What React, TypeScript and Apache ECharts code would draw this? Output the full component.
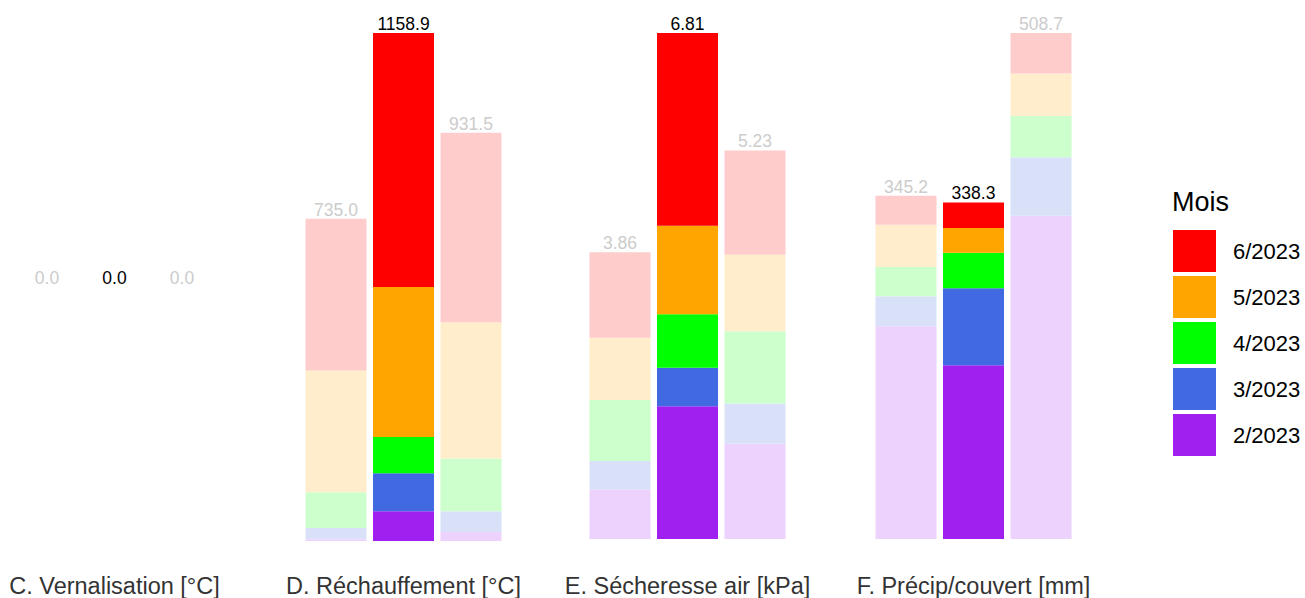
import React, { useEffect, useRef } from "react";
import * as echarts from "echarts";

// Legend / month order (top of stack first in legend)
const months = ["6/2023", "5/2023", "4/2023", "3/2023", "2/2023"];
// Stack order from bottom: 2/2023 .. 6/2023
const stackMonths = ["2/2023", "3/2023", "4/2023", "5/2023", "6/2023"];
const fullColors = ["#A020F0", "#4169E1", "#00FF00", "#FFA500", "#FF0000"];
const fadedColors = ["#ECD2FC", "#D9E1F9", "#CCFFCC", "#FFEDCC", "#FFCCCC"];

const facetTitles = [
  "C. Vernalisation [°C]",
  "D. Réchauffement [°C]",
  "E. Sécheresse air [kPa]",
  "F. Précip/couvert [mm]",
];
const barCategories = ["prev", "current", "next"];

// rows: 2/2023, 3/2023, 4/2023, 5/2023, 6/2023 ; columns: 3 bars
const vernalisationByMonth = [
  [0, 0, 0],
  [0, 0, 0],
  [0, 0, 0],
  [0, 0, 0],
  [0, 0, 0],
];
const rechauffementByMonth = [
  [3.9, 67.8, 20.5],
  [25.7, 86.5, 47.2],
  [81.6, 82.7, 120.5],
  [277.7, 342.3, 310.6],
  [346.1, 579.6, 432.7],
];
const secheresseByMonth = [
  [0.662, 1.785, 1.282],
  [0.388, 0.52, 0.543],
  [0.822, 0.721, 0.972],
  [0.835, 1.191, 1.027],
  [1.153, 2.593, 1.406],
];
const precipByMonth = [
  [213.8, 174.6, 325.0],
  [30.3, 77.4, 58.7],
  [29.3, 35.8, 41.6],
  [42.6, 24.9, 42.6],
  [29.2, 25.6, 40.8],
];

const vernalisationTotals = [0, 0, 0];
const rechauffementTotals = [735.0, 1158.9, 931.5];
const secheresseTotals = [3.86, 6.81, 5.23];
const precipTotals = [345.2, 338.3, 508.7];

const facetValues = [vernalisationByMonth, rechauffementByMonth, secheresseByMonth, precipByMonth];
const facetTotals = [vernalisationTotals, rechauffementTotals, secheresseTotals, precipTotals];
const facetDecimals = [1, 1, 2, 1];

const FONT = "'Liberation Sans', Arial, sans-serif";

export default function App() {
  const ref = useRef<HTMLDivElement>(null);

  useEffect(() => {
    if (!ref.current) return;
    const chart = echarts.init(ref.current, null, { renderer: "svg" });

    const gridLefts = [13.25, 302.25, 586.25, 872.25];
    const gridBottoms = [57, 57, 59, 59];
    const bandWidth = 67.5;

    const grids = gridLefts.map((l, f) => ({
      left: l,
      top: 33,
      width: bandWidth * 3,
      bottom: gridBottoms[f],
      containLabel: false,
    }));

    const xAxes = gridLefts.map((_, f) => ({
      type: "category" as const,
      gridIndex: f,
      data: barCategories,
      show: false,
    }));

    const yAxes = facetValues.map((vals, f) => {
      const sums = [0, 1, 2].map((i) => vals.reduce((s, r) => s + r[i], 0));
      const mx = Math.max(...sums);
      return {
        type: "value" as const,
        gridIndex: f,
        show: false,
        min: mx > 0 ? 0 : -1,
        max: mx > 0 ? mx : 1,
        splitLine: { show: false },
      };
    });

    const series: any[] = [];
    facetValues.forEach((vals, f) => {
      vals.forEach((row, m) => {
        const isTop = m === vals.length - 1;
        series.push({
          type: "bar",
          name: stackMonths[m],
          xAxisIndex: f,
          yAxisIndex: f,
          stack: "facet" + f,
          barWidth: 61,
          itemStyle: { color: fullColors[m] },
          data: row.map((v, i) => ({
            value: v,
            itemStyle: { color: i === 1 ? fullColors[m] : fadedColors[m] },
            label: isTop ? { color: i === 1 ? "#000000" : "#CCCCCC" } : undefined,
          })),
          label: isTop
            ? {
                show: true,
                position: "top",
                distance: 0,
                fontSize: 17.5,
                fontFamily: FONT,
                formatter: (p: any) => facetTotals[f][p.dataIndex].toFixed(facetDecimals[f]),
              }
            : { show: false },
        });
      });
    });

    const stripCenters = gridLefts.map((l) => l + (bandWidth * 3) / 2);

    chart.setOption({
      animation: false,
      grid: grids,
      xAxis: xAxes,
      yAxis: yAxes,
      series,
      legend: {
        data: months,
        orient: "vertical",
        left: 1173,
        top: 230,
        padding: 0,
        itemWidth: 43,
        itemHeight: 42,
        itemGap: 4,
        icon: "rect",
        selectedMode: false,
        textStyle: {
          fontSize: 22,
          fontFamily: FONT,
          color: "#000000",
          padding: [0, 0, 0, 12],
        },
      },
      graphic: [
        ...facetTitles.map((t, f) => ({
          type: "text",
          x: stripCenters[f],
          y: 585.5,
          style: {
            text: t,
            fontSize: 23.5,
            fontFamily: FONT,
            fill: "#333333",
            textAlign: "center",
            textVerticalAlign: "middle",
          },
        })),
        {
          type: "text",
          x: 1172,
          y: 202,
          style: {
            text: "Mois",
            fontSize: 27,
            fontFamily: FONT,
            fill: "#000000",
            textAlign: "left",
            textVerticalAlign: "middle",
          },
        },
      ],
    });

    return () => chart.dispose();
  }, []);

  return (
    <div
      ref={ref}
      style={{ position: "fixed", left: 0, top: 0, width: 1305, height: 598, background: "#FFFFFF" }}
    />
  );
}
